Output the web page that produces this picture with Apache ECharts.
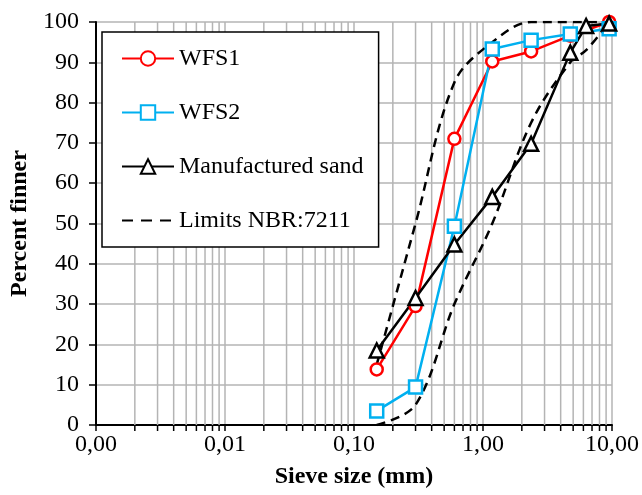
<!DOCTYPE html>
<html>
<head>
<meta charset="utf-8">
<script src="https://cdn.jsdelivr.net/npm/echarts@6/dist/echarts.min.js"></script>
<style>
  html, body { margin: 0; padding: 0; background: #fff; }
  #chart { width: 642px; height: 495px; }
</style>
</head>
<body>
<div id="chart"></div>
<script>
// sieve sizes (mm) and percent passing
const sieves = [0.15, 0.3, 0.6, 1.18, 2.36, 4.75, 9.5];
const wfs1 = [13.8, 29.5, 71, 90.2, 92.7, 96.6, 100];
const wfs2 = [3.5, 9.4, 49.3, 93.3, 95.5, 97, 98.3];
const sandSieves = [0.15, 0.3, 0.6, 1.18, 2.36, 4.75, 6.3, 9.5];
const sand = [18.5, 31.5, 44.8, 56.6, 69.8, 92.4, 99, 99.6];
const limitSieves = [0.15, 0.3, 0.6, 1.18, 2.36, 4.75, 6.3, 9.5];
const limitUpper = [15, 50, 85, 95, 100, 100, 100, 100];
const limitLower = [0, 5, 30, 50, 75, 90, 93, 100];
const minorTicks = [];
[0.001, 0.01, 0.1, 1].forEach((d) => {
  for (let k = 2; k <= 9; k++) minorTicks.push(+(d * k).toPrecision(3));
});

const FONT = 'Liberation Serif';
const pairs = (xs, ys) => xs.map((x, i) => [x, ys[i]]);

const chart = echarts.init(document.getElementById('chart'), null, { renderer: 'canvas' });

const marked = (name, xs, ys, color, symbol, size) => ({
  name,
  type: 'line',
  data: pairs(xs, ys),
  symbol,
  symbolSize: size,
  showSymbol: true,
  z: 5,
  lineStyle: { color, width: 2.5 },
  itemStyle: { color: '#fff', borderColor: color, borderWidth: 2.5 },
});

const limit = (ys) => ({
  name: 'Limits NBR:7211',
  type: 'line',
  data: pairs(limitSieves, ys),
  symbol: 'none',
  smooth: 0.35,
  z: 3,
  lineStyle: { color: '#000', width: 2.5, type: [9, 6] },
  itemStyle: { color: '#000' },
});

chart.setOption({
  animation: false,
  backgroundColor: '#fff',
  grid: { left: 96, right: 27, top: 22, bottom: 70 },
  legend: {
    data: ['WFS1', 'WFS2', 'Manufactured sand',
      { name: 'Limits NBR:7211', itemStyle: { opacity: 0 }, lineStyle: { type: [11, 8] } }],
    orient: 'vertical',
    left: 102,
    top: 32,
    padding: [13, 15, 13, 19],
    itemWidth: 52,
    itemHeight: 18,
    itemGap: 27,
    backgroundColor: '#fff',
    borderColor: '#000',
    borderWidth: 1.5,
    borderRadius: 0,
    textStyle: { fontFamily: FONT, fontSize: 24, color: '#000', lineHeight: 27 },
  },
  xAxis: {
    type: 'log',
    logBase: 10,
    min: 0.001,
    max: 10,
    interval: 1,
    name: 'Sieve size (mm)',
    nameLocation: 'middle',
    nameGap: 40,
    nameTextStyle: { fontFamily: FONT, fontSize: 24, fontWeight: 'bold', color: '#000' },
    axisLine: { lineStyle: { color: '#000', width: 2 } },
    axisTick: { show: true, inside: false, length: 6, lineStyle: { color: '#000', width: 1.5 } },
    axisLabel: {
      fontFamily: FONT, fontSize: 24, color: '#000', margin: 8,
      formatter: (v) => v.toFixed(2).replace('.', ','),
    },
    splitLine: { show: true, lineStyle: { color: '#b4b4b4', width: 1.5 } },
  },
  yAxis: {
    type: 'value',
    min: 0,
    max: 100,
    interval: 10,
    name: 'Percent finner',
    nameLocation: 'middle',
    nameGap: 64,
    nameTextStyle: { fontFamily: FONT, fontSize: 24, fontWeight: 'bold', color: '#000' },
    axisLine: { show: true, lineStyle: { color: '#000', width: 2 } },
    axisTick: { show: true, inside: false, length: 7, lineStyle: { color: '#000', width: 1.5 } },
    axisLabel: { fontFamily: FONT, fontSize: 24, color: '#000', margin: 17 },
    splitLine: { show: true, lineStyle: { color: '#b4b4b4', width: 1.5 } },
  },
  series: [
    {
      type: 'custom',
      silent: true,
      z: 1,
      clip: false,
      data: minorTicks.map((v) => [v]),
      renderItem: (params, api) => {
        const v = api.value(0);
        const p0 = api.coord([v, 0]);
        const p1 = api.coord([v, 100]);
        return {
          type: 'group',
          children: [
            { type: 'line', shape: { x1: p0[0], y1: p0[1], x2: p1[0], y2: p1[1] },
              style: { stroke: '#b4b4b4', lineWidth: 1.5 } },
            { type: 'line', shape: { x1: p0[0], y1: p0[1], x2: p0[0], y2: p0[1] + 6 },
              style: { stroke: '#000', lineWidth: 1.5 } },
          ],
        };
      },
    },
    limit(limitUpper),
    limit(limitLower),
    marked('WFS1', sieves, wfs1, '#ff0000', 'circle', 12),
    marked('WFS2', sieves, wfs2, '#00b0f0', 'rect', 13),
    marked('Manufactured sand', sandSieves, sand, '#000000', 'triangle', 14),
  ],
});
window.addEventListener('resize', () => chart.resize());
</script>
</body>
</html>
